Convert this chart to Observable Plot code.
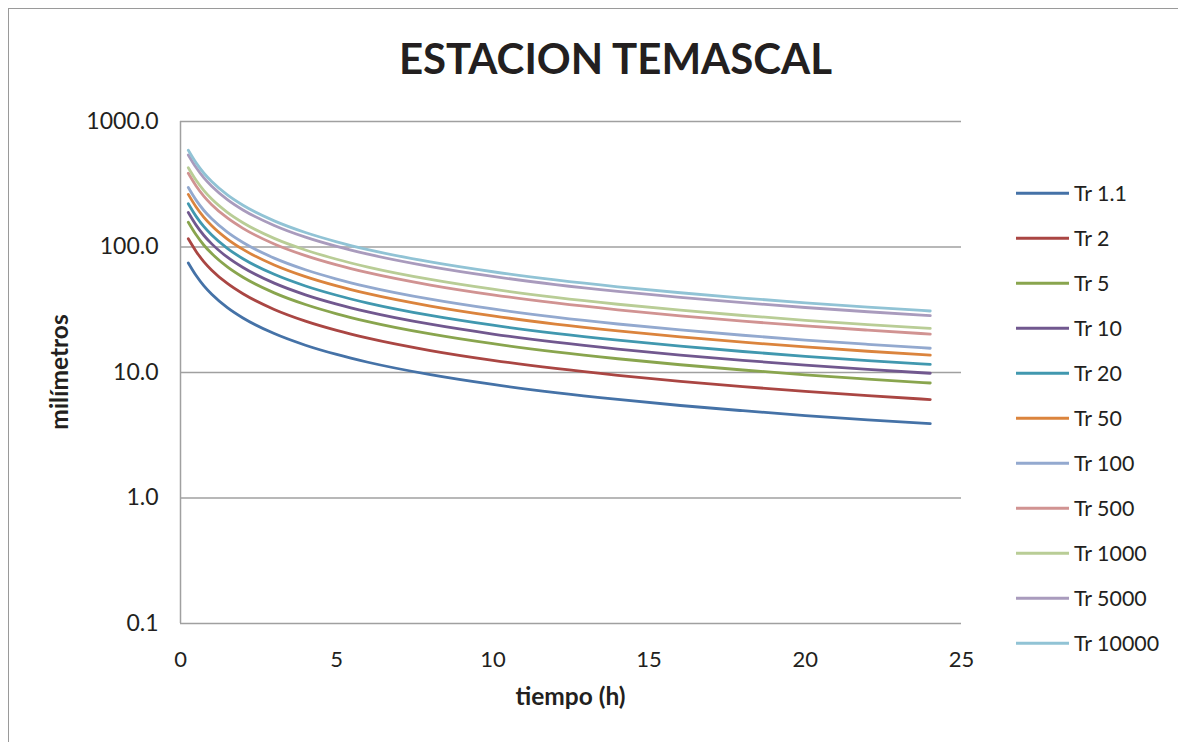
<!DOCTYPE html>
<html>
<head>
<meta charset="utf-8">
<script src="https://cdn.jsdelivr.net/npm/d3@7"></script>
<script src="https://cdn.jsdelivr.net/npm/@observablehq/plot@0.6"></script>
<style>
  html, body { margin: 0; padding: 0; background: #fff; }
  #wrap { position: relative; width: 1178px; height: 742px; overflow: hidden; background: #fff; }
  #border { position: absolute; left: 8px; top: 8px; width: 1300px; height: 900px; border: 1px solid #9a9a9a; box-sizing: border-box; }
  #chart, #overlay { position: absolute; left: 0; top: 0; }
</style>
</head>
<body>
<div id="wrap">
  <div id="border"></div>
  <div id="chart"></div>
  <svg id="overlay" width="1178" height="742"></svg>
</div>
<script>
// Duration (hours)
const times = [0.25, 0.5, 0.75, 1, 1.5, 2, 3, 4, 5, 6, 8, 10, 12, 14, 16, 18, 20, 22, 24];

// Series values (milímetros)
const tr1_1   = [74.6, 59.2, 48.96, 42.0, 32.89, 27.2, 20.43, 16.50, 13.92, 12.07, 9.61, 8.03, 6.92, 6.10, 5.46, 4.96, 4.54, 4.20, 3.91];
const tr2     = [116.2, 92.2, 76.2, 65.4, 51.2, 42.36, 31.82, 25.69, 21.67, 18.79, 14.97, 12.51, 10.78, 9.50, 8.51, 7.72, 7.07, 6.54, 6.09];
const tr5     = [157.5, 125.0, 103.3, 88.6, 69.4, 57.4, 43.12, 34.82, 29.37, 25.47, 20.29, 16.95, 14.60, 12.87, 11.53, 10.47, 9.59, 8.86, 8.25];
const tr10    = [188.2, 149.3, 123.5, 105.9, 82.94, 68.59, 51.52, 41.60, 35.09, 30.43, 24.24, 20.26, 17.45, 15.38, 13.78, 12.50, 11.45, 10.59, 9.86];
const tr20    = [221.3, 175.5, 145.1, 124.5, 97.5, 80.63, 60.56, 48.9, 41.25, 35.78, 28.5, 23.81, 20.51, 18.08, 16.2, 14.7, 13.46, 12.45, 11.59];
const tr50    = [262.6, 208.3, 172.2, 147.7, 115.7, 95.68, 71.87, 58.03, 48.95, 42.45, 33.82, 28.26, 24.34, 21.45, 19.22, 17.44, 15.98, 14.77, 13.75];
const tr100   = [298.0, 236.3, 195.4, 167.7, 131.3, 108.6, 81.56, 65.85, 55.55, 48.18, 38.38, 32.07, 27.62, 24.34, 21.82, 19.80, 18.13, 16.77, 15.60];
const tr500   = [386.5, 306.5, 253.5, 217.5, 170.3, 140.8, 105.8, 85.41, 72.05, 62.49, 49.78, 41.59, 35.83, 31.57, 28.30, 25.68, 23.51, 21.75, 20.24];
const tr1000  = [428.3, 339.8, 281.0, 241.0, 188.8, 156.1, 117.2, 94.67, 79.86, 69.26, 55.18, 46.10, 39.71, 34.99, 31.36, 28.46, 26.06, 24.10, 22.43];
const tr5000  = [541.6, 429.6, 355.3, 304.8, 238.7, 197.4, 148.3, 119.7, 101.0, 87.58, 69.77, 58.29, 50.21, 44.25, 39.66, 35.99, 32.96, 30.48, 28.37];
const tr10000 = [590.0, 468.0, 387.0, 332.0, 260.0, 215.0, 161.5, 130.4, 110.0, 95.4, 76.0, 63.5, 54.7, 48.2, 43.2, 39.2, 35.9, 33.2, 30.9];

const seriesNames = ["Tr 1.1", "Tr 2", "Tr 5", "Tr 10", "Tr 20", "Tr 50", "Tr 100", "Tr 500", "Tr 1000", "Tr 5000", "Tr 10000"];
const seriesValues = [tr1_1, tr2, tr5, tr10, tr20, tr50, tr100, tr500, tr1000, tr5000, tr10000];
const seriesColors = ["#4572A7", "#AA4643", "#89A54E", "#71588F", "#4198AF", "#DB843D", "#93A9CF", "#D19392", "#B9CD96", "#A99BBD", "#91C3D5"];

const yTicks = [0.1, 1, 10, 100, 1000];
const xTicks = [0, 5, 10, 15, 20, 25];

const titleText = "ESTACION TEMASCAL";
const xLabel = "tiempo (h)";
const yLabel = "milímetros";

const data = [];
seriesNames.forEach((name, i) => {
  times.forEach((t, j) => data.push({ series: name, t, v: seriesValues[i][j] }));
});

const textColor = "#231f20";
const axisGray = "#a0a0a0";

const chart = Plot.plot({
  width: 1178,
  height: 742,
  marginLeft: 180,
  marginRight: 217,
  marginTop: 121,
  marginBottom: 119,
  style: { fontFamily: "Lato, 'Open Sans', sans-serif", fontSize: "22px", color: textColor, background: "transparent", overflow: "visible" },
  x: { domain: [0, 25] },
  y: { type: "log", domain: [0.1, 1000] },
  color: { domain: seriesNames, range: seriesColors },
  marks: [
    Plot.gridY([1, 10, 100, 1000], { stroke: axisGray, strokeOpacity: 1, strokeWidth: 1.3 }),
    Plot.ruleX([0], { stroke: axisGray, strokeWidth: 1.5 }),
    Plot.ruleY([0.1], { stroke: axisGray, strokeWidth: 1.5 }),
    Plot.axisY(yTicks, { tickSize: 0, tickPadding: 22, tickFormat: d => d.toFixed(1), label: null, fontSize: 23, fill: textColor }),
    Plot.axisX(xTicks, { tickSize: 0, tickPadding: 28, label: null, fontSize: 22, fill: textColor }),
    Plot.line(data, { x: "t", y: "v", z: "series", stroke: "series", curve: "monotone-x", strokeWidth: 2.8 })
  ]
});
document.getElementById("chart").appendChild(chart);

// Overlay texts and legend
const ov = d3.select("#overlay");
const font = "Lato, 'Open Sans', sans-serif";

ov.append("text").attr("x", 615.5).attr("y", 74).attr("text-anchor", "middle")
  .attr("font-family", font).attr("font-weight", "bold").attr("font-size", 42)
  .attr("fill", textColor).text(titleText);

ov.append("text").attr("x", 570.5).attr("y", 705).attr("text-anchor", "middle")
  .attr("font-family", font).attr("font-weight", "bold").attr("font-size", 24.5)
  .attr("fill", textColor).text(xLabel);

ov.append("text").attr("transform", "translate(68,372) rotate(-90)").attr("text-anchor", "middle")
  .attr("font-family", font).attr("font-weight", "bold").attr("font-size", 24.5)
  .attr("fill", textColor).text(yLabel);

const leg = ov.append("g");
seriesNames.forEach((name, i) => {
  const cy = 193.3 + i * 45;
  leg.append("line").attr("x1", 1016).attr("x2", 1069).attr("y1", cy).attr("y2", cy)
    .attr("stroke", seriesColors[i]).attr("stroke-width", 3);
  leg.append("text").attr("x", 1074).attr("y", cy + 7.6)
    .attr("font-family", font).attr("font-size", 21.4).attr("fill", textColor).text(name);
});
</script>
</body>
</html>
